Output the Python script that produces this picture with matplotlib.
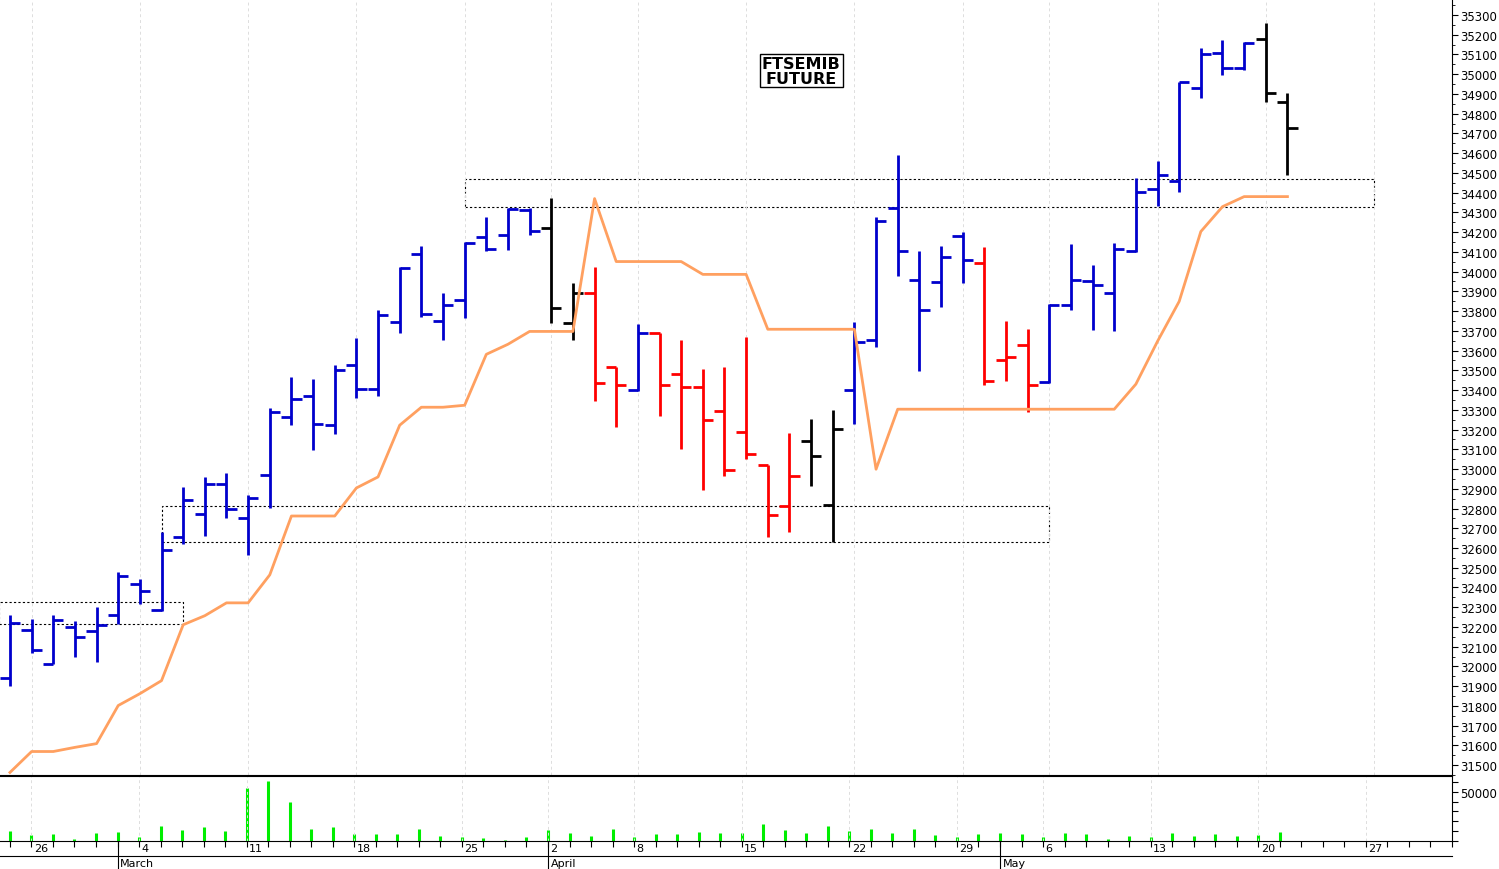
import matplotlib
matplotlib.use("Agg")
import matplotlib.pyplot as plt
from matplotlib.lines import Line2D
from matplotlib.patches import Rectangle
import matplotlib.transforms as mtrans

opens = [31943,32186,32014,32201,32181,32262,32418,32287,32656,32772,32924,32752,32970,33263,33369,33222,
         33526,33404,33743,34087,33748,33854,34173,34183,34314,34223,33738,33890,33515,33399,33687,33480,
         33414,33293,33187,33020,32813,33141,32818,33399,33652,34324,33955,33945,34178,34046,33551,33627,
         33440,33829,33950,33890,34102,34420,34461,34931,35108,35032,35179,34860]
highs = [32262,32241,32262,32231,32302,32479,32444,32681,32909,32959,32980,32868,33308,33465,33455,33526,
         33662,33804,34021,34132,33890,34152,34279,34324,34324,34375,33940,34021,33515,33733,33687,33652,
         33505,33515,33667,33020,33182,33253,33298,33743,34279,34592,34102,34132,34203,34127,33748,33708,
         33834,34142,34036,34147,34476,34562,34961,35133,35174,35164,35260,34906]
lows = [31903,32070,32014,32049,32024,32216,32317,32282,32621,32661,32752,32565,32803,33222,33096,33177,
        33359,33369,33687,33768,33652,33763,34102,34107,34183,33738,33652,33344,33212,33394,33268,33101,
        32894,32964,33050,32656,32681,32914,32631,33227,33617,33976,33495,33819,33940,33424,33445,33288,
        33435,33804,33703,33698,34097,34334,34405,34880,34997,35022,34860,34491]
closes = [32221,32085,32236,32150,32211,32459,32383,32590,32843,32924,32798,32853,33288,33354,33227,33500,
          33404,33778,34016,33783,33829,34147,34117,34319,34208,33814,33890,33435,33424,33687,33424,33414,
          33247,32995,33076,32767,32964,33065,33202,33642,34254,34102,33804,34072,34061,33445,33566,33424,
          33829,33960,33930,34117,34405,34491,34961,35103,35032,35159,34906,34729]
trend = ["b"]*25 + ["k"]*2 + ["r"]*2 + ["b"] + ["r"]*7 + ["k"]*2 + ["b"]*6 + ["r"]*3 + ["b"]*10 + ["k"]*2
stop = [31463,31569,31569,31590,31609,31802,31862,31928,32211,32257,32322,32322,32464,32762,32762,32762,
        32904,32960,33222,33313,33313,33323,33581,33632,33697,33697,33697,34370,34051,34051,34051,34051,
        33986,33986,33986,33708,33708,33708,33708,33708,32999,33303,33303,33303,33303,33303,33303,33303,
        33303,33303,33303,33303,33430,33647,33849,34203,34329,34380,34380,34380]
volume = [10000,5800,6800,1700,8200,9200,4100,15300,10900,14300,9900,53700,61200,40100,11900,14300,
          6800,6800,6800,11900,4800,4100,3400,1000,4100,11200,7800,5100,12600,4100,6800,6800,
          9500,8200,8200,17700,11600,7800,15300,10200,11900,8200,11900,5800,4100,7500,8200,6800,
          4100,7800,6800,2000,5100,4400,8200,5100,7500,5100,5800,9200]
day_labels = {1: "26", 6: "4", 11: "11", 16: "18", 21: "25", 25: "2", 29: "8", 34: "15", 39: "22",
              44: "29", 48: "6", 53: "13", 58: "20", 63: "27"}
month_labels = {5: "March", 25: "April", 46: "May"}
boxes = [(-0.5, 8, 32216, 32327), (7, 48, 32631, 32813), (21, 63, 34329, 34471)]
title = "FTSEMIB\nFUTURE"

colmap = {"b": "#0000CC", "r": "#FF0000", "k": "#000000"}
n = len(opens)
xs = list(range(n))
XMIN, XMAX = -0.46, 66.6

fig = plt.figure(figsize=(14.99, 8.70), dpi=100)
ax = fig.add_axes([0, 1 - 776/870, 1452/1499, 776/870])
axv = fig.add_axes([0, 28/870, 1452/1499, 65/870])

tl = 0.47
for i in xs:
    c = colmap[trend[i]]
    ax.plot([i, i], [lows[i], highs[i]], color=c, lw=2.0, solid_capstyle="butt")
    ax.plot([i - tl, i], [opens[i], opens[i]], color=c, lw=2.0, solid_capstyle="butt")
    ax.plot([i, i + tl], [closes[i], closes[i]], color=c, lw=2.0, solid_capstyle="butt")
ax.plot(xs, stop, color="#FFA060", lw=2.0)
for (x0, x1, y0, y1) in boxes:
    ax.add_patch(Rectangle((x0, y0), x1 - x0, y1 - y0, fill=False, ls=(0, (2, 2)), lw=0.8, ec="black"))
ax.text(36.55, 35017, title, ha="center", va="center", fontsize=11.5, fontweight="bold",
        family="DejaVu Sans", linespacing=0.95,
        bbox=dict(boxstyle="square,pad=0.12", fc="white", ec="black", lw=1.0))

ax.set_xlim(XMIN, XMAX)
ax.set_ylim(31458, 35381)
ax.yaxis.tick_right()
ax.set_yticks(range(31500, 35301, 100))
ax.set_yticks(range(31450, 35381, 100), minor=True)
ax.tick_params(axis="y", labelsize=8.5, length=4, which="major", pad=2)
ax.tick_params(axis="y", length=2, which="minor")
ax.set_xticks([k for k in day_labels])
ax.tick_params(axis="x", length=0, labelbottom=False)
ax.grid(axis="x", color="#DDDDDD", ls=(0, (3, 3)), lw=0.7)
for s in ["top", "left"]:
    ax.spines[s].set_visible(False)

axv.vlines(xs, 0, volume, color="#00EE00", lw=2.2)
axv.set_xlim(XMIN, XMAX)
axv.set_ylim(0, 66000)
axv.yaxis.tick_right()
axv.set_yticks(range(0, 66000, 10000))
axv.set_yticklabels(["50000" if v == 50000 else "" for v in range(0, 66000, 10000)])
axv.tick_params(axis="y", labelsize=8.5, length=4, pad=2)
axv.set_xticks(range(0, 68))
axv.tick_params(axis="x", length=4, labelbottom=False)
for k in day_labels:
    axv.axvline(k, color="#DDDDDD", ls=(0, (3, 3)), lw=0.7)
axv.spines["left"].set_visible(False)

tr = mtrans.blended_transform_factory(axv.transData, fig.transFigure)
for k, lab in day_labels.items():
    axv.text(k + 0.12, 1 - 849/870, lab, transform=tr, fontsize=8, va="center", ha="left", clip_on=False)
for k, lab in month_labels.items():
    axv.text(k + 0.12, 1 - 864/870, lab, transform=tr, fontsize=8, va="center", ha="left", clip_on=False)
    axv.add_line(Line2D([k, k], [1 - 842/870, 0], transform=tr, color="black", lw=0.8, clip_on=False))
fig.add_artist(Line2D([0, 1452/1499], [1 - 857/870, 1 - 857/870], color="black", lw=0.8))

fig.savefig("out.png", dpi=100)
